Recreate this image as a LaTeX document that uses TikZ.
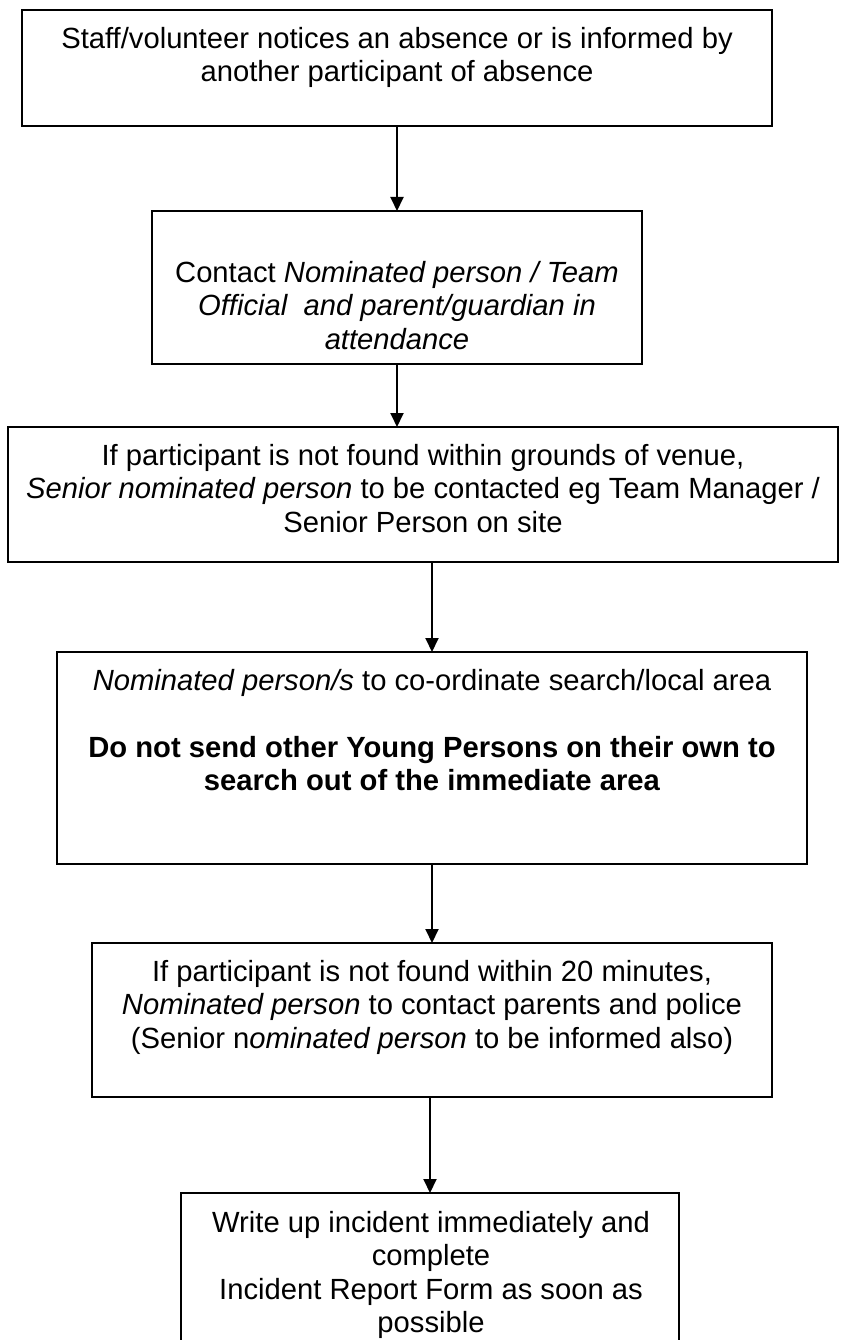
\documentclass[tikz,border=0pt]{standalone}
\usepackage{fontspec}
\setmainfont{Liberation Sans}
\usetikzlibrary{arrows.meta}
\begin{document}
\begin{tikzpicture}[x=1pt,y=-1pt,
  box/.style={draw=black, line width=1.6pt, inner sep=0pt, outer sep=0pt, rectangle},
  txt/.style={align=center, inner sep=0pt, anchor=north, font=\fontsize{29.2pt}{33.5pt}\selectfont},
  arr/.style={line width=1.9pt, -{Triangle[length=14pt,width=13pt]}}]
\useasboundingbox (0,0) rectangle (841,1340);
\clip (0,0) rectangle (841,1340);
% boxes
\node[box, minimum width=750pt, minimum height=116pt] (b1) at (397,68) {};
\node[box, minimum width=490pt, minimum height=153pt] (b2) at (397,287.5) {};
\node[box, minimum width=830pt, minimum height=135pt] (b3) at (423,494.5) {};
\node[box, minimum width=750pt, minimum height=212pt] (b4) at (432,758) {};
\node[box, minimum width=680pt, minimum height=154pt] (b5) at (432,1020) {};
\node[box, minimum width=498pt, minimum height=170pt] (b6) at (430,1278) {};
% texts
\node[txt] (t1) at (397,24.55) {\strut Staff/volunteer notices an absence or is informed by\\another participant of absence};
\node[txt] (t2) at (397,258.55) {\strut Contact \textit{Nominated person / Team}\\\textit{Official\ \ and parent/guardian in}\\\textit{attendance}};
\node[txt] (t3) at (423,441.55) {\strut If participant is not found within grounds of venue,\\\textit{Senior nominated person} to be contacted eg Team Manager /\\Senior Person on site};
\node[txt] (t4) at (432,666.55) {\strut\textit{Nominated person/s} to co-ordinate search/local area\\[33.5pt]\textbf{Do not send other Young Persons on their own to}\\\textbf{search out of the immediate area}};
\node[txt] (t5) at (432,957.55) {\strut If participant is not found within 20 minutes,\\\textit{Nominated person} to contact parents and police\\(Senior n\textit{ominated person} to be informed also)};
\node[txt] (t6) at (431,1208.55) {\strut Write up incident immediately and\\complete\\Incident Report Form as soon as\\possible};
% arrows
\draw[arr] (b1.south) -- (b2.north);
\draw[arr] (b2.south) -- (b2.south |- b3.north);
\draw[arr] (b3.south -| b4.north) -- (b4.north);
\draw[arr] (b4.south) -- (b5.north);
\draw[arr] (b6.north |- b5.south) -- (b6.north);
\end{tikzpicture}
\end{document}
